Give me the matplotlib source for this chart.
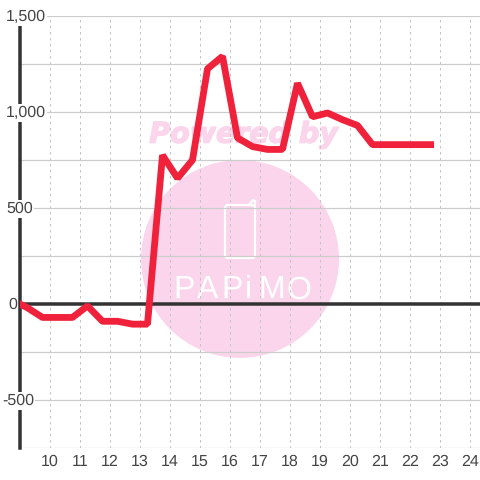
import matplotlib
matplotlib.use('Agg')
import matplotlib.pyplot as plt
from matplotlib.patches import Circle, FancyBboxPatch
import matplotlib.patheffects as pe

hours = [8.75, 9.25, 9.75, 10.25, 10.75, 11.25, 11.75, 12.25, 12.75, 13.25, 13.75, 14.25, 14.75,
         15.25, 15.75, 16.25, 16.75, 17.25, 17.75, 18.25, 18.75, 19.25, 19.75, 20.25, 20.75,
         21.25, 21.75, 22.25, 22.8]
values = [20, -20, -70, -70, -70, -10, -90, -90, -105, -105, 775, 655, 750,
          1225, 1290, 865, 820, 805, 805, 1150, 975, 995, 960, 930, 830,
          830, 830, 830, 830]
x_ticks = list(range(10, 25))
y_ticks = [1500, 1000, 500, 0, -500]
y_labels = ['1,500', '1,000', '500', '0', '-500']
y_label_left = [6, 6, 6, 8, 2]  # px from figure left

plt.rcParams['font.family'] = ['Liberation Sans', 'DejaVu Sans']
plt.rcParams['text.hinting'] = 'no_hinting'
plt.rcParams['text.hinting_factor'] = 1
fig = plt.figure(figsize=(4.8, 4.8), dpi=100)
px = 0.72  # points per pixel

# watermark, in pixels
bg = fig.add_axes([0, 0, 1, 1], zorder=0)
bg.set_xlim(0, 480)
bg.set_ylim(480, 0)
bg.axis('off')
pink = '#fbd5ec'
bg.add_patch(Circle((240, 259), 99, fc=pink, ec='none'))
bg.text(242, 135, 'Powered by', color=pink, fontsize=20.5, fontweight='bold', fontstyle='italic',
        family='DejaVu Sans', ha='center', va='center',
        path_effects=[pe.withStroke(linewidth=1, foreground=pink)])
bg.add_patch(FancyBboxPatch((225, 205), 30, 53, boxstyle='round,pad=0,rounding_size=3',
                            fc='none', ec='white', lw=2.2 * px))
bg.plot([249, 253, 255, 255], [205, 200, 201, 206], color='white', lw=2.2 * px)
logo_x = [184, 208, 232, 248, 272, 299]
for letter, lx in zip('PAPiMO', logo_x):
    bg.text(lx, 290, letter, color='white', fontsize=23, family='Liberation Sans',
            ha='center', va='center')

# chart
ax = fig.add_axes([20 / 480, 32 / 480, 460 / 480, 432 / 480], zorder=1)
ax.patch.set_alpha(0)
ax.set_xlim(9, 24 + 1 / 3)
ax.set_ylim(-750, 1500)
ax.set_xticks(x_ticks)
ax.set_yticks(list(range(-750, 1501, 250)))
ax.grid(axis='y', color='#cccccc', lw=1.2 * px, zorder=1)
ax.grid(axis='x', color='#c4c4c4', lw=1.0 * px, ls=(0, (2.5, 3.5)), zorder=1)
ax.set_axisbelow(True)
ax.tick_params(axis='both', length=0)
ax.tick_params(axis='x', labelsize=11.3, labelcolor='#444444', pad=4.5)
ax.tick_params(axis='y', labelleft=False)
for s in ['top', 'right', 'bottom']:
    ax.spines[s].set_visible(False)
ax.spines['left'].set_color('#333333')
ax.spines['left'].set_linewidth(3.5 * px)
ax.axhline(0, color='#333333', lw=3.5 * px, zorder=3)
ax.plot(hours, values, color='#f0213a', lw=6.8 * px, solid_joinstyle='bevel',
        solid_capstyle='butt', zorder=4)

for v, lab, left in zip(y_ticks, y_labels, y_label_left):
    ax.annotate(lab, xy=(0, v), xycoords=('figure pixels', 'data'), xytext=(left, -1),
                textcoords='offset pixels', ha='left', va='center', fontsize=11.3, color='#444444',
                bbox=dict(fc='white', ec='none', pad=1), zorder=5, annotation_clip=False)

fig.savefig('out.png', dpi=100)
